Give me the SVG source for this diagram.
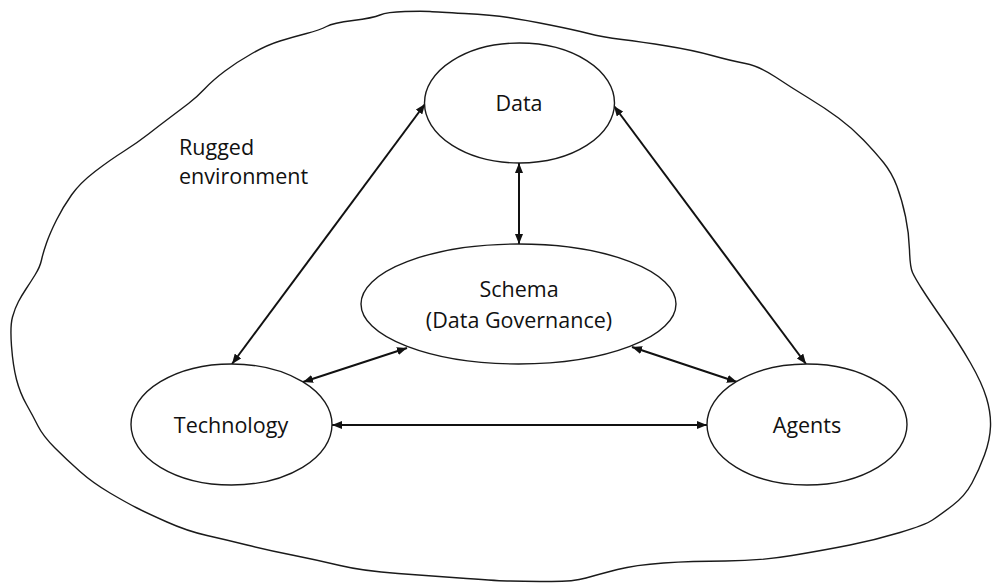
<svg xmlns="http://www.w3.org/2000/svg" width="992" height="583" viewBox="0 0 992 583">
<style>
.node{fill:#fff;stroke:#1a1a1a;stroke-width:1.4}
.lbl{font-family:"Open Sans","Liberation Sans",sans-serif;font-size:21.5px;fill:#111;text-anchor:middle}
.free{font-family:"Open Sans","Liberation Sans",sans-serif;font-size:21.5px;fill:#111}
.conn{stroke:#111;stroke-width:2;fill:none;marker-start:url(#ah);marker-end:url(#ah)}
.blob{fill:none;stroke:#1a1a1a;stroke-width:1.4;stroke-linejoin:round}
</style>
<defs>
<marker id="ah" markerUnits="userSpaceOnUse" markerWidth="11" markerHeight="8" refX="10" refY="4" orient="auto-start-reverse">
<path d="M0,0 L10,4 L0,8 z" fill="#111"/>
</marker>
</defs>
<rect width="992" height="583" fill="#fff"/>
<g id="environment">
<path class="blob" d="M380,15 Q387,12 405,11.5 Q423,11 430,11.5 Q437,12 464.5,13.5 Q492,15 508.5,17.5 Q525,20 550,25 Q575,30 588.5,33.5 Q602,37 622,39.5 Q642,42 667,46 Q692,50 712,55.5 Q732,61 745.5,63.5 Q759,66 775.5,77 Q792,88 808.5,98 Q825,108 838.5,118 Q852,128 863.5,140 Q875,152 883.5,162.5 Q892,173 897,186.5 Q902,200 905.5,216.5 Q909,233 909.5,250 Q910,267 912.5,272.5 Q915,278 922,289 Q929,300 944,321.5 Q959,343 970.5,363 Q982,383 986.5,398 Q991,413 990.5,426.5 Q990,440 984.5,455 Q979,470 972,483 Q965,496 952.5,505.5 Q940,515 932.5,520 Q925,525 900,532.5 Q875,540 850,545 Q825,550 792,555.5 Q759,561 725.5,561 Q692,561 663.5,563 Q635,565 617.5,569.5 Q600,574 586,578 Q572,582 546,581.5 Q520,581 510,581 Q500,581 466.5,578.5 Q433,576 398,573.5 Q363,571 340,565.5 Q317,560 292,555 Q267,550 247,545 Q227,540 207,535.5 Q187,531 167,522 Q147,513 137,508 Q127,503 110,493 Q93,483 80,471.5 Q67,460 55,448 Q43,436 38,426 Q33,416 26.5,404.5 Q20,393 16.5,379.5 Q13,366 11.5,346 Q10,326 12.5,317 Q15,308 18.5,301.5 Q22,295 26,289 Q30,283 35,275 Q40,267 41.5,260 Q43,253 46.5,243 Q50,233 56.5,220 Q63,207 71.5,195 Q80,183 95,171.5 Q110,160 123.5,151.5 Q137,143 148.5,134 Q160,125 170,117.5 Q180,110 188.5,103.5 Q197,97 205,88.5 Q213,80 225,71 Q237,62 252,53.5 Q267,45 280,41 Q293,37 306.5,33.5 Q320,30 326.5,26.5 Q333,23 353,20.5 Q373,18 380,15 Z"/>
<text class="free" x="179" y="155">Rugged</text>
<text class="free" x="179" y="184">environment</text>
</g>
<g id="connectors">
<line class="conn" x1="425" y1="104" x2="232" y2="364"/>
<line class="conn" x1="614" y1="106" x2="806" y2="364"/>
<line class="conn" x1="519" y1="163" x2="519" y2="244"/>
<line class="conn" x1="303" y1="382" x2="407" y2="348"/>
<line class="conn" x1="632" y1="347" x2="737" y2="382"/>
<line class="conn" x1="332" y1="425" x2="707" y2="425"/>
</g>
<g id="data">
<ellipse class="node" cx="519.5" cy="103" rx="95" ry="60"/>
<text class="lbl" x="519" y="111">Data</text>
</g>
<g id="schema">
<ellipse class="node" cx="518.5" cy="304" rx="157.5" ry="60"/>
<text class="lbl" x="519" y="297">Schema</text>
<text class="lbl" x="519" y="328">(Data Governance)</text>
</g>
<g id="technology">
<ellipse class="node" cx="231.5" cy="424.5" rx="100.5" ry="60.5"/>
<text class="lbl" x="231" y="433">Technology</text>
</g>
<g id="agents">
<ellipse class="node" cx="807" cy="424.5" rx="100" ry="60.5"/>
<text class="lbl" x="807" y="433">Agents</text>
</g>
</svg>
